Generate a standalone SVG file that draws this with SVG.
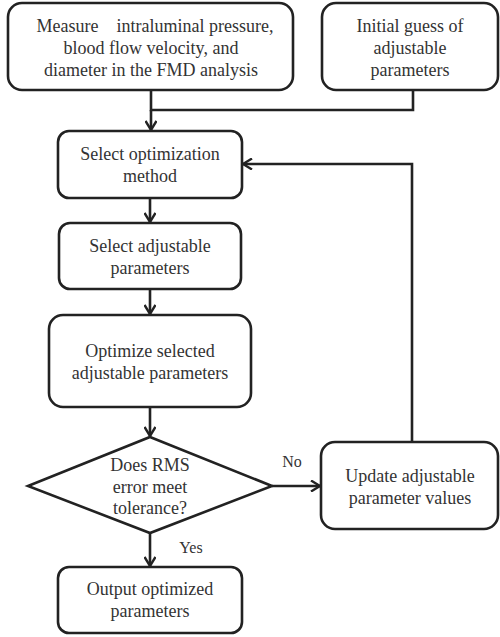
<svg xmlns="http://www.w3.org/2000/svg" width="500" height="637" viewBox="0 0 500 637">
<defs>
<marker id="ah" viewBox="0 0 12 12" refX="11" refY="6" markerWidth="12" markerHeight="12" markerUnits="userSpaceOnUse" orient="auto">
<path d="M2,0.5 L11,6 L2,11.5" fill="none" stroke="#222" stroke-width="2.4"/>
</marker>
</defs>
<rect width="500" height="637" fill="#fff"/>
<g id="connectors" fill="none" stroke="#222" stroke-width="2.6">
<path d="M151,90 V110 H413 V90"/>
<path d="M151,110 V130" marker-end="url(#ah)"/>
<path d="M150,198 V222" marker-end="url(#ah)"/>
<path d="M150,289 V314" marker-end="url(#ah)"/>
<path d="M150,407 V436" marker-end="url(#ah)"/>
<path d="M272,486 H320" marker-end="url(#ah)"/>
<path d="M150,533 V566" marker-end="url(#ah)"/>
<path d="M412,442 V164 H243" marker-end="url(#ah)"/>
</g>
<g id="labels" font-family="Liberation Serif" font-size="16" fill="#333" text-anchor="middle">
<text x="292" y="467">No</text>
<text x="191" y="553">Yes</text>
</g>
<g id="measure" font-family="Liberation Serif" font-size="18" fill="#333" text-anchor="middle">
<rect x="8" y="3" width="285" height="87" rx="14" fill="#fff" stroke="#222" stroke-width="2.6"/>
<text x="155" y="32" xml:space="preserve">Measure    intraluminal pressure,</text>
<text x="151" y="54">blood flow velocity, and</text>
<text x="151" y="76">diameter in the FMD analysis</text>
</g>
<g id="initial" font-family="Liberation Serif" font-size="18" fill="#333" text-anchor="middle">
<rect x="322" y="3" width="176" height="87" rx="14" fill="#fff" stroke="#222" stroke-width="2.6"/>
<text x="410" y="32">Initial guess of</text>
<text x="410" y="54">adjustable</text>
<text x="410" y="76">parameters</text>
</g>
<g id="method" font-family="Liberation Serif" font-size="18" fill="#333" text-anchor="middle">
<rect x="58" y="131" width="184" height="67" rx="11" fill="#fff" stroke="#222" stroke-width="2.6"/>
<text x="150" y="160">Select optimization</text>
<text x="150" y="182">method</text>
</g>
<g id="select" font-family="Liberation Serif" font-size="18" fill="#333" text-anchor="middle">
<rect x="59" y="223" width="182" height="66" rx="11" fill="#fff" stroke="#222" stroke-width="2.6"/>
<text x="150" y="252">Select adjustable</text>
<text x="150" y="274">parameters</text>
</g>
<g id="optimize" font-family="Liberation Serif" font-size="18" fill="#333" text-anchor="middle">
<rect x="49" y="315" width="202" height="92" rx="14" fill="#fff" stroke="#222" stroke-width="2.6"/>
<text x="150" y="357">Optimize selected</text>
<text x="150" y="379">adjustable parameters</text>
</g>
<g id="decision" font-family="Liberation Serif" font-size="18" fill="#333" text-anchor="middle">
<polygon points="150,437 272,486 150,533 28,486" fill="#fff" stroke="#222" stroke-width="2.6"/>
<text x="150" y="471">Does RMS</text>
<text x="150" y="493">error meet</text>
<text x="150" y="514">tolerance?</text>
</g>
<g id="update" font-family="Liberation Serif" font-size="18" fill="#333" text-anchor="middle">
<rect x="321" y="442" width="177" height="87" rx="14" fill="#fff" stroke="#222" stroke-width="2.6"/>
<text x="410" y="482">Update adjustable</text>
<text x="410" y="504">parameter values</text>
</g>
<g id="output" font-family="Liberation Serif" font-size="18" fill="#333" text-anchor="middle">
<rect x="58" y="567" width="184" height="66" rx="11" fill="#fff" stroke="#222" stroke-width="2.6"/>
<text x="150" y="595">Output optimized</text>
<text x="150" y="617">parameters</text>
</g>
</svg>
